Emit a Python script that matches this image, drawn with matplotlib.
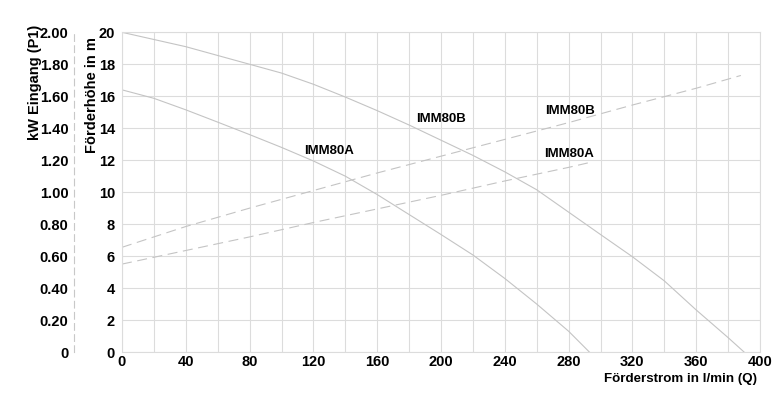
import matplotlib
matplotlib.use("Agg")
import matplotlib.pyplot as plt

plt.rcParams['font.family'] = ['Liberation Sans', 'DejaVu Sans']

# Head curves (m)
q_b = [0, 40, 80, 100, 120, 140, 160, 180, 200, 220, 240, 260, 280, 300, 320, 340, 360, 380, 390]
h_b = [20.0, 19.1, 18.0, 17.45, 16.75, 15.95, 15.1, 14.2, 13.25, 12.3, 11.27, 10.15, 8.75, 7.35, 5.96, 4.45, 2.63, 0.9, 0.0]
q_a = [0, 20, 40, 60, 80, 100, 120, 140, 160, 180, 200, 220, 240, 260, 280, 293]
h_a = [16.4, 15.87, 15.15, 14.38, 13.6, 12.8, 11.95, 11.0, 9.85, 8.6, 7.35, 6.07, 4.6, 3.0, 1.3, 0.0]

# Power curves (kW)
qp_b = [0, 40, 80, 120, 160, 200, 240, 280, 320, 360, 388]
p_b = [0.655, 0.785, 0.90, 1.01, 1.12, 1.225, 1.33, 1.435, 1.545, 1.65, 1.73]
qp_a = [0, 40, 80, 120, 160, 200, 240, 280, 293]
p_a = [0.55, 0.635, 0.72, 0.81, 0.895, 0.98, 1.07, 1.155, 1.185]

x_ticks = [0, 40, 80, 120, 160, 200, 240, 280, 320, 360, 400]
h_ticks = [0, 2, 4, 6, 8, 10, 12, 14, 16, 18, 20]
kw_ticks = [0, 0.2, 0.4, 0.6, 0.8, 1.0, 1.2, 1.4, 1.6, 1.8, 2.0]
kw_labels = ['0', '0.20', '0.40', '0.60', '0.80', '1.00', '1.20', '1.40', '1.60', '1.80', '2.00']

fig = plt.figure(figsize=(7.84, 4.0), dpi=100)
ax = fig.add_axes([122/784, 1-352/400, 638/784, (352-32.3)/400])

ax.set_xlim(0, 400)
ax.set_ylim(0, 20)
ax.set_yticks(h_ticks)
ax.set_xticks(x_ticks)
ax.set_xticks(range(20, 400, 40), minor=True)
ax.grid(True, color='#dcdcdc', linewidth=0.8)
ax.grid(True, which='minor', axis='x', color='#dcdcdc', linewidth=0.8)
ax.set_xticklabels([str(v) for v in x_ticks], fontweight='bold', fontsize=10.5)
ax.set_yticklabels([str(v) for v in h_ticks], fontweight='bold', fontsize=10.5)
ax.tick_params(axis='both', which='both', length=0)
ax.tick_params(axis='y', pad=5)
ax.tick_params(axis='x', pad=2)
for s in ax.spines.values():
    s.set_color('#dcdcdc')
    s.set_linewidth(0.8)

lc = '#c4c4c4'
ax.plot(q_b, h_b, color=lc, lw=0.8)
ax.plot(q_a, h_a, color=lc, lw=0.8)
pscale = 10.0
ax.plot(qp_b, [p*pscale for p in p_b], color=lc, lw=0.8, dashes=(9, 5))
ax.plot(qp_a, [p*pscale for p in p_a], color=lc, lw=0.8, dashes=(9, 5))

ax.text(130, 12.6, 'IMM80A', fontsize=9.5, fontweight='bold', ha='center', va='center')
ax.text(200, 14.6, 'IMM80B', fontsize=9.5, fontweight='bold', ha='center', va='center')
ax.text(281, 15.1, 'IMM80B', fontsize=9.5, fontweight='bold', ha='center', va='center')
ax.text(280, 12.4, 'IMM80A', fontsize=9.5, fontweight='bold', ha='center', va='center')

sec = ax.secondary_yaxis(-48/638, functions=(lambda h: h/pscale, lambda p: p*pscale))
sec.set_yticks(kw_ticks)
sec.set_yticklabels(kw_labels, fontweight='bold', fontsize=10.5)
sec.tick_params(length=0, pad=4)
sec.spines['left'].set_color('#c8c8c8')
sec.spines['left'].set_linestyle((0, (6, 4)))
sec.spines['left'].set_linewidth(0.8)

fig.text(35/784, 1-82/400, 'kW Eingang (P1)', rotation=90, ha='center', va='center',
         fontsize=10.5, fontweight='bold')
fig.text(92/784, 1-95/400, 'Förderhöhe in m', rotation=90, ha='center', va='center',
         fontsize=10.5, fontweight='bold')
fig.text(757/784, 1-379/400, 'Förderstrom in l/min (Q)', ha='right', va='center',
         fontsize=9.6, fontweight='bold')

fig.savefig('out.png', dpi=100, facecolor='white')
